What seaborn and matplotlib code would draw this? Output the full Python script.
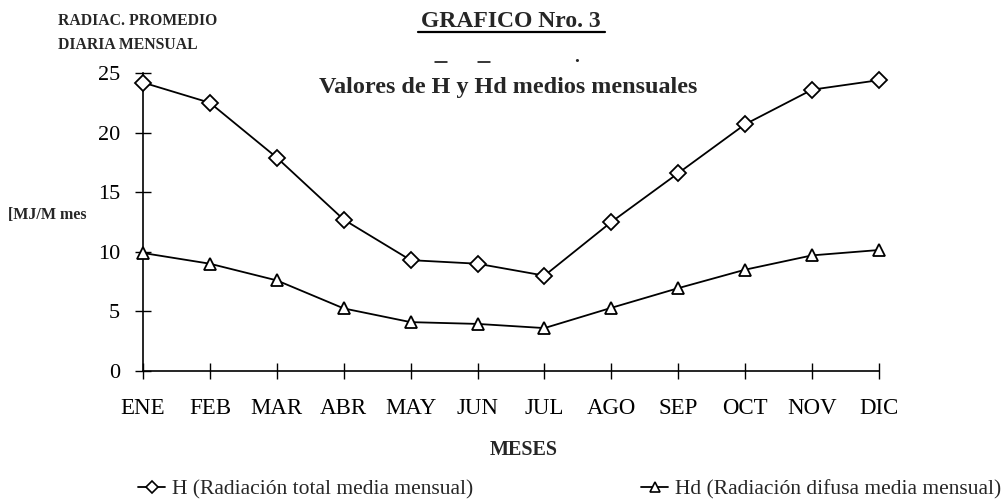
import pandas as pd
import numpy as np
import matplotlib
matplotlib.use("Agg")
import matplotlib.pyplot as plt
import seaborn as sns
from matplotlib.lines import Line2D

meses = ["ENE", "FEB", "MAR", "ABR", "MAY", "JUN", "JUL", "AGO", "SEP", "OCT", "NOV", "DIC"]
h_total = [24.2, 22.5, 17.9, 12.7, 9.3, 9.0, 8.0, 12.5, 16.6, 20.7, 23.6, 24.4]
hd_difusa = [9.9, 9.0, 7.6, 5.25, 4.1, 3.95, 3.6, 5.3, 6.95, 8.5, 9.7, 10.15]
y_ticks = [0, 5, 10, 15, 20, 25]

lab_h = "H (Radiación total media mensual)"
lab_hd = "Hd (Radiación difusa media mensual)"

df = pd.DataFrame({
    "mes": list(range(len(meses))) * 2,
    "valor": h_total + hd_difusa,
    "serie": [lab_h] * len(meses) + [lab_hd] * len(meses),
})

sns.set_style("white")
plt.rcParams["font.family"] = ["Liberation Serif", "DejaVu Serif"]

fig = plt.figure(figsize=(10.05, 5.0), dpi=100)
ax = fig.add_axes([0.1423, 0.258, 0.7323, 0.596])

sns.lineplot(
    data=df, x="mes", y="valor", style="serie",
    markers={lab_h: "D", lab_hd: "^"},
    dashes=False, color="black", linewidth=1.3,
    markersize=8, markerfacecolor="white", markeredgecolor="black",
    markeredgewidth=1.3, legend=False, ax=ax,
)
for ln in ax.lines:
    ln.set_clip_on(False)
    ln.set_zorder(5)

ax.set_xlim(0, 11)
ax.set_ylim(0, 25)
ax.set_xticks(range(len(meses)))
ax.set_xticklabels(meses)
ax.set_yticks(y_ticks)
ax.set_xlabel("")
ax.set_ylabel("")
for s in ["top", "right"]:
    ax.spines[s].set_visible(False)
for s in ["left", "bottom"]:
    ax.spines[s].set_color("black")
    ax.spines[s].set_linewidth(1.2)
ax.tick_params(axis="both", bottom=True, left=True, direction="inout",
               length=11.5, width=1.0, color="black", labelcolor="black")
ax.tick_params(axis="x", pad=13.5, labelsize=16.5)
ax.tick_params(axis="y", pad=10.8, labelsize=16)

# textos
fig.text(0.058, 0.958, "RADIAC. PROMEDIO", fontsize=11.3, fontweight="bold", va="center")
fig.text(0.058, 0.91, "DIARIA MENSUAL", fontsize=11.3, fontweight="bold", va="center")
fig.text(0.008, 0.57, "[MJ/M mes", fontsize=11.5, fontweight="bold", va="center")
fig.text(0.5085, 0.957, "GRAFICO Nro. 3", fontsize=17, fontweight="bold",
         ha="center", va="center")
fig.add_artist(Line2D([0.416, 0.602], [0.937, 0.937], color="black", linewidth=1.6))

subtitulo = "Valores de H y Hd medios mensuales"
sub = fig.text(0.506, 0.825, subtitulo, fontsize=17.4,
               fontweight="bold", ha="center", va="center")

# barras sobre H y Hd, medidas sobre el texto dibujado
rend = fig.canvas.get_renderer()
bb = sub.get_window_extent(rend)
W = fig.bbox.width


def ancho(s):
    tmp = fig.text(0, 0, s, fontsize=17.4, fontweight="bold")
    w = tmp.get_window_extent(rend).width
    tmp.remove()
    return w


w_h = ancho("H")
for pref in ["Valores de ", "Valores de H y "]:
    xc = bb.x0 + ancho(pref) + w_h / 2
    fig.add_artist(Line2D([(xc - 6) / W, (xc + 6) / W], [0.877, 0.877],
                          color="black", linewidth=1.1))
fig.text(0.574, 0.885, ".", fontsize=14, fontweight="bold", ha="center", va="center")
fig.text(0.521, 0.1, "MESES", fontsize=14.5, fontweight="bold", ha="center", va="center")

handles = [
    Line2D([], [], color="black", linewidth=1.3, marker="D", markersize=6,
           markerfacecolor="white", markeredgecolor="black", markeredgewidth=1.2),
    Line2D([], [], color="black", linewidth=1.3, marker="^", markersize=7,
           markerfacecolor="white", markeredgecolor="black", markeredgewidth=1.2),
]
fig.legend(handles, [lab_h, lab_hd], loc="center", bbox_to_anchor=(0.567, 0.022),
           ncol=2, frameon=False, fontsize=15.5, handlelength=1.25, handletextpad=0.33,
           columnspacing=7.8, borderpad=0, borderaxespad=0)

fig.savefig("out.png", dpi=100)
